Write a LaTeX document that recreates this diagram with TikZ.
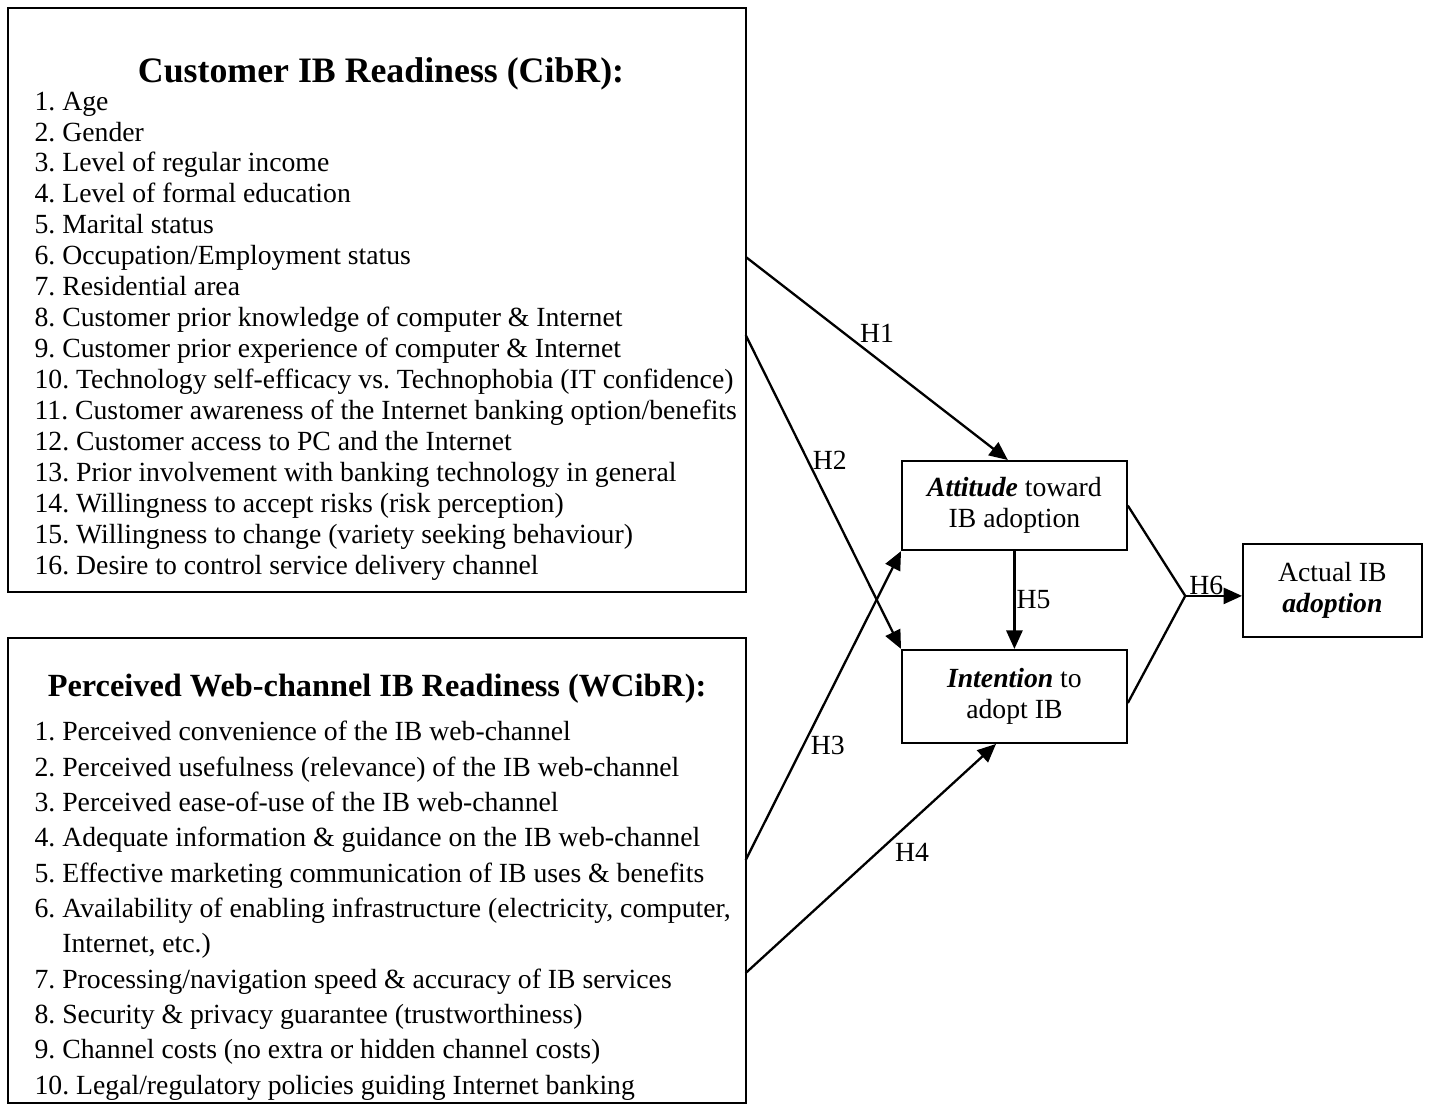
\documentclass[tikz,border=0pt]{standalone}
\usepackage{fontspec}
\setmainfont{Liberation Serif}
\usetikzlibrary{arrows.meta}
\frenchspacing

\begin{document}
\begin{tikzpicture}[font=\fontsize{12}{13.4}\selectfont,
	box/.style={draw,line width=0.9pt,inner sep=0pt},
	fac/.style={box,align=center,minimum width=3.42cm},
	lst/.style={anchor=north west,align=left,inner sep=0pt},
	hyp/.style={-{Triangle[length=8pt,width=7pt]},line width=1pt},
	lbl/.style={inner sep=0pt}]
	\useasboundingbox (0,0) rectangle (21.75,16.85);

	\node[box,minimum width=11.23cm,minimum height=8.89cm] (cibr) at (5.735,12.285) {};
	\node[font=\fontsize{15.5}{18}\selectfont\bfseries] (cibrtitle) at (5.8,15.73) {Customer IB Readiness (CibR):};
	\node[lst] (cibrlist) at (0.52,15.46) {1. Age\\2. Gender\\3. Level of regular income\\4. Level of formal education\\5. Marital status\\6. Occupation/Employment status\\7. Residential area\\8. Customer prior knowledge of computer \& Internet\\9. Customer prior experience of computer \& Internet\\10. Technology self-efficacy vs. Technophobia (IT confidence)\\11. Customer awareness of the Internet banking option/benefits\\12. Customer access to PC and the Internet\\13. Prior involvement with banking technology in general\\14. Willingness to accept risks (risk perception)\\15. Willingness to change (variety seeking behaviour)\\16. Desire to control service delivery channel};

	\node[box,minimum width=11.23cm,minimum height=7.09cm] (wcibr) at (5.735,3.6) {};
	\node[font=\fontsize{14}{17}\selectfont\bfseries] (wcibrtitle) at (5.74,6.36) {Perceived Web-channel IB Readiness (WCibR):};
	\node[lst,font=\fontsize{12}{15.3}\selectfont] (wcibrlist) at (0.52,5.88) {1. Perceived convenience of the IB web-channel\\2. Perceived usefulness (relevance) of the IB web-channel\\3. Perceived ease-of-use of the IB web-channel\\4. Adequate information \& guidance on the IB web-channel\\5. Effective marketing communication of IB uses \& benefits\\6. Availability of enabling infrastructure (electricity, computer,\\\hspace*{1em}Internet, etc.)\\7. Processing/navigation speed \& accuracy of IB services\\8. Security \& privacy guarantee (trustworthiness)\\9. Channel costs (no extra or hidden channel costs)\\10. Legal/regulatory policies guiding Internet banking};

	\node[fac,minimum height=1.355cm] (attitude) at (15.44,9.155) {\textbf{\textit{Attitude}} toward\\IB adoption};
	\node[fac,minimum height=1.415cm] (intention) at (15.44,6.25) {\textbf{\textit{Intention}} to\\adopt IB};
	\node[box,align=center,minimum width=2.72cm,minimum height=1.415cm] (actual) at (20.28,7.86) {Actual IB\\\textbf{\textit{adoption}}};

	\coordinate (h1s) at (11.35,12.94);
	\coordinate (h2s) at (11.35,11.75);
	\coordinate (h3s) at (11.35,3.76);
	\coordinate (h4s) at (11.35,2.04);
	\coordinate (junc) at (18.04,7.78);

	\draw[hyp] (h1s) -- ([xshift=-1mm]attitude.north);
	\draw[hyp] (h2s) -- (intention.north west);
	\draw[hyp] (h3s) -- (attitude.south west);
	\draw[hyp] (h4s) -- ([xshift=-2.8mm]intention.south);
	\draw[hyp] (attitude.south) -- (intention.north);
	\draw[line width=1pt] (attitude.east) -- (junc) -- ([yshift=-1mm]intention.east);
	\draw[hyp] (junc) -- (junc -| actual.west);

	\node[lbl] (h1) at (13.35,11.78) {H1};
	\node[lbl] (h2) at (12.63,9.85) {H2};
	\node[lbl] (h3) at (12.60,5.51) {H3};
	\node[lbl] (h4) at (13.88,3.88) {H4};
	\node[lbl] (h5) at (15.73,7.73) {H5};
	\node[lbl] (h6) at (18.36,7.94) {H6};
\end{tikzpicture}
\end{document}
